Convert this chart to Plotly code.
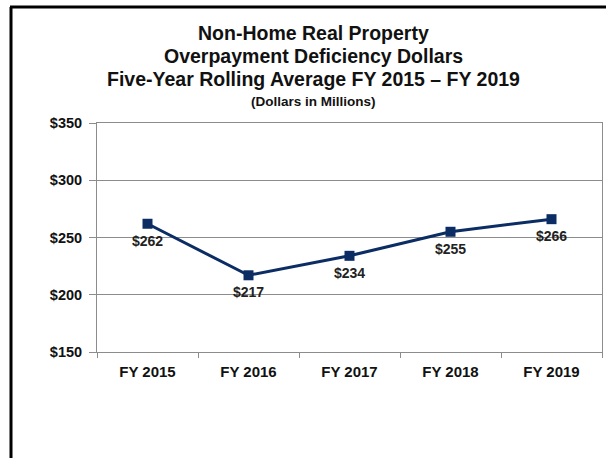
import plotly.graph_objects as go

categories = ["FY 2015", "FY 2016", "FY 2017", "FY 2018", "FY 2019"]
values = [262, 217, 234, 255, 266]
labels = ["$262", "$217", "$234", "$255", "$266"]
y_ticks = [150, 200, 250, 300, 350]
y_tick_text = ["$150", "$200", "$250", "$300", "$350"]

W, H = 606, 458
L, R, T, B = 97, 4, 123, 106
pw, ph = W - L - R, H - T - B
FONT = "Liberation Sans, Arial"

def px(x):
    return (x - L) / pw

def py(y):
    return (H - B - y) / ph

fig = go.Figure()
fig.add_trace(go.Scatter(
    x=categories, y=values, mode="lines+markers",
    line=dict(color="#0b2d64", width=3),
    marker=dict(symbol="square", size=10, color="#0b2d64"),
    cliponaxis=False, showlegend=False, hoverinfo="skip",
))

for c, v, t in zip(categories, values, labels):
    fig.add_annotation(x=c, y=v, text="<b>" + t + "</b>", showarrow=False,
                       xanchor="center", yanchor="middle", yshift=-17,
                       font=dict(family=FONT, size=14, color="#222222"))

title_lines = [
    ("Non-Home Real Property", 33, 19.5),
    ("Overpayment Deficiency Dollars", 56, 19.5),
    ("Five-Year Rolling Average FY 2015 \u2013 FY 2019", 79, 19.5),
    ("(Dollars in Millions)", 102, 13.5),
]
for txt, yy, sz in title_lines:
    fig.add_annotation(text="<b>" + txt + "</b>", xref="paper", yref="paper",
                       x=px(313), y=py(yy), showarrow=False,
                       xanchor="center", yanchor="middle",
                       font=dict(family=FONT, size=sz, color="#111111"))

# outer frame (left + top visible)
fig.add_shape(type="line", xref="paper", yref="paper",
              x0=px(11), y0=py(470), x1=px(11), y1=py(7),
              line=dict(color="black", width=3))
fig.add_shape(type="line", xref="paper", yref="paper",
              x0=px(10), y0=py(7), x1=px(620), y1=py(7),
              line=dict(color="black", width=3))

fig.update_layout(
    width=W, height=H,
    margin=dict(l=L, r=R, t=T, b=B),
    paper_bgcolor="white", plot_bgcolor="white",
    font=dict(family=FONT, color="#111111"),
    xaxis=dict(
        type="category", showgrid=False, showline=True, linecolor="#8c8c8c", linewidth=1,
        mirror=True, ticks="outside", ticklen=5, tickcolor="#8c8c8c",
        tickson="boundaries", range=[-0.5, 4.5], ticklabelstandoff=6,
        tickfont=dict(size=15, color="#111111", family=FONT, weight="bold"),
    ),
    yaxis=dict(
        range=[150, 350], tickvals=y_ticks, ticktext=y_tick_text,
        showgrid=True, gridcolor="#8c8c8c", gridwidth=1,
        showline=True, linecolor="#8c8c8c", linewidth=1, mirror=True,
        ticks="outside", ticklen=7, tickcolor="#8c8c8c", zeroline=False,
        ticklabelstandoff=4,
        tickfont=dict(size=14.5, color="#111111", family=FONT, weight="bold"),
    ),
)

fig.write_html("out.html", config={"displayModeBar": False})
with open("out.html", "r", encoding="utf-8") as f:
    html = f.read()
html = html.replace("<head>", "<head><style>html,body{margin:0;padding:0;overflow:hidden;}</style>", 1)
with open("out.html", "w", encoding="utf-8") as f:
    f.write(html)
